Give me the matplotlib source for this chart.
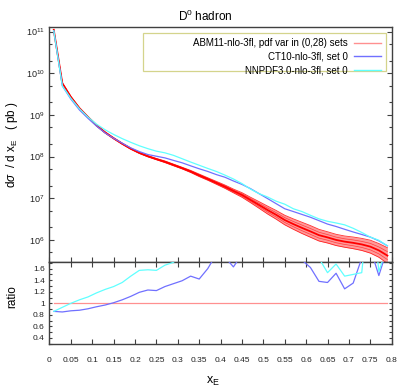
import numpy as np
import matplotlib
matplotlib.use('Agg')
import matplotlib.pyplot as plt
from matplotlib.patches import Rectangle
from matplotlib.ticker import FixedLocator, FuncFormatter, LogLocator, NullFormatter, MultipleLocator

plt.rcParams['font.family'] = ['Liberation Sans', 'DejaVu Sans']
plt.rcParams['mathtext.fontset'] = 'custom'
plt.rcParams['mathtext.rm'] = 'Liberation Sans'
plt.rcParams['mathtext.it'] = 'Liberation Sans:italic'
plt.rcParams['mathtext.sf'] = 'Liberation Sans'

# ---------------- data ----------------
x_E = [0.01, 0.03, 0.05, 0.07, 0.09, 0.11, 0.13, 0.15, 0.17, 0.19,
       0.21, 0.23, 0.25, 0.27, 0.29, 0.31, 0.33, 0.35, 0.37, 0.39,
       0.41, 0.43, 0.45, 0.47, 0.49, 0.51, 0.53, 0.55, 0.57, 0.59,
       0.61, 0.63, 0.65, 0.67, 0.69, 0.71, 0.73, 0.75, 0.77, 0.79]

# ABM11 central value (pb)
abm11 = [1.1e11, 5.75e9, 2.69e9, 1.45e9, 8.9e8, 5.6e8, 3.8e8, 2.75e8, 2.04e8, 1.55e8,
         1.23e8, 1.02e8, 8.7e7, 7.5e7, 6.3e7, 5.3e7, 4.4e7, 3.55e7, 2.9e7, 2.35e7,
         1.9e7, 1.5e7, 1.2e7, 9.1e6, 6.9e6, 5.2e6, 4.0e6, 3.0e6, 2.4e6, 1.95e6,
         1.6e6, 1.3e6, 1.15e6, 1.0e6, 9.1e5, 8.5e5, 7.8e5, 6.9e5, 5.6e5, 4.2e5]
# spread of the 29 ABM11 members (decades, half width)
abm11_spread_dex = [0.015, 0.015, 0.015, 0.015, 0.015, 0.015, 0.015, 0.015, 0.015, 0.015,
                    0.015, 0.015, 0.015, 0.02, 0.02, 0.02, 0.025, 0.03, 0.03, 0.035,
                    0.04, 0.045, 0.055, 0.065, 0.08, 0.095, 0.105, 0.115, 0.125, 0.135,
                    0.14, 0.14, 0.135, 0.135, 0.135, 0.14, 0.145, 0.155, 0.165, 0.19]
ct10 = [1.05e11, 5.0e9, 2.4e9, 1.32e9, 8.3e8, 5.4e8, 3.7e8, 2.75e8, 2.1e8, 1.62e8,
        1.32e8, 1.12e8, 1.02e8, 9.3e7, 8.1e7, 7.1e7, 6.0e7, 5.1e7, 4.4e7, 3.7e7,
        3.2e7, 2.6e7, 2.15e7, 1.7e7, 1.29e7, 9.8e6, 7.4e6, 5.6e6, 4.8e6, 4.1e6,
        3.5e6, 2.9e6, 2.4e6, 2.1e6, 1.8e6, 1.55e6, 1.35e6, 1.17e6, 9.5e5, 7.2e5]
nnpdf = [1.05e11, 5.0e9, 2.5e9, 1.41e9, 8.9e8, 6.0e8, 4.4e8, 3.4e8, 2.7e8, 2.2e8,
         1.82e8, 1.55e8, 1.35e8, 1.23e8, 1.07e8, 8.9e7, 7.4e7, 6.2e7, 5.2e7, 4.4e7,
         3.6e7, 2.9e7, 2.25e7, 1.66e7, 1.29e7, 1.07e7, 8.5e6, 7.2e6, 5.6e6, 4.8e6,
         3.9e6, 3.2e6, 2.8e6, 2.55e6, 2.3e6, 1.9e6, 1.51e6, 1.17e6, 9.8e5, 7.2e5]

ratio_abm11 = [1.0] * 40
ratio_ct10 = [0.86, 0.85, 0.87, 0.88, 0.905, 0.94, 0.97, 1.01, 1.06, 1.12,
              1.19, 1.23, 1.22, 1.29, 1.34, 1.39, 1.47, 1.42, 1.60, 1.85,
              1.80, 1.63, 1.85, 1.90, 1.95, 2.00, 2.00, 1.95, 1.85, 1.75,
              1.62, 1.38, 1.36, 1.52, 1.25, 1.35, 1.78, 1.95, 1.48, 1.95]
ratio_nnpdf = [0.86, 0.93, 1.00, 1.06, 1.11, 1.18, 1.24, 1.29, 1.36, 1.47,
               1.57, 1.58, 1.57, 1.66, 1.71, 1.85, 1.95, 2.05, 2.10, 2.15,
               2.20, 2.20, 2.20, 2.20, 2.20, 2.20, 2.20, 2.15, 2.10, 2.00,
               1.90, 1.78, 1.53, 1.68, 1.47, 1.50, 1.53, 3.00, 1.55, 2.00]

labels = ['ABM11-nlo-3fl, pdf var in (0,28) sets', 'CT10-nlo-3fl, set 0', 'NNPDF3.0-nlo-3fl, set 0']
xticks = [0, 0.05, 0.1, 0.15, 0.2, 0.25, 0.3, 0.35, 0.4, 0.45, 0.5, 0.55, 0.6, 0.65, 0.7, 0.75, 0.8]

# ---------------- style ----------------
c_red = '#ff0000'
c_red_light = '#ff9090'
c_blue = '#7070ff'
c_cyan = '#60ffff'
c_frame = '#404040'

fig = plt.figure(figsize=(4.11, 3.91), dpi=100)
ax = fig.add_axes([0.1204, 0.3307, 0.8326, 0.5995])
axr = fig.add_axes([0.1204, 0.1194, 0.8326, 0.2113])

xa = np.array(x_E)
abm = np.array(abm11)
sp = 10 ** np.array(abm11_spread_dex)

# main panel
ax.fill_between(xa, abm / sp, abm * sp, color='#ff2020', alpha=0.45, lw=0, zorder=2, clip_on=False)
ax.plot(xa, abm / sp, color=c_red, lw=0.6, alpha=0.8, zorder=2, clip_on=False)
ax.plot(xa, abm * sp, color=c_red, lw=0.6, alpha=0.8, zorder=2)
ax.plot(xa, abm / np.sqrt(sp), color=c_red, lw=0.5, alpha=0.6, zorder=2)
ax.plot(xa, abm * np.sqrt(sp), color=c_red, lw=0.5, alpha=0.6, zorder=2)
ax.plot(xa, abm, color=c_red, lw=1.3, zorder=3)
ax.plot(xa, ct10, color=c_blue, lw=0.9, zorder=4)
ax.plot(xa, nnpdf, color=c_cyan, lw=0.9, zorder=4)

ax.set_yscale('log')
ax.set_xlim(0, 0.8)
ax.set_ylim(3.0e5, 1.27e11)
ax.yaxis.set_major_locator(LogLocator(base=10, numticks=20))
ax.yaxis.set_minor_locator(LogLocator(base=10, subs=(2.0, 5.0), numticks=20))
ax.yaxis.set_minor_formatter(NullFormatter())
ax.xaxis.set_major_locator(FixedLocator(xticks))
ax.tick_params(axis='both', which='both', direction='in', top=False, right=True,
               labelbottom=False, labelsize=6.5, colors=c_frame, labelcolor='#222222', width=0.8)
ax.tick_params(which='major', length=3.5)
ax.tick_params(which='minor', length=2.2)

# legend frame (wide box, as in the original)
ax.add_patch(Rectangle((0.2732, 0.8149), 0.7101, 0.1595, transform=ax.transAxes,
                       facecolor='white', edgecolor='#d4d48c', lw=0.9, zorder=5))
h1, = ax.plot([], [], color=c_red_light, lw=1.0)
h2, = ax.plot([], [], color=c_blue, lw=1.0)
h3, = ax.plot([], [], color=c_cyan, lw=1.0)
leg = ax.legend([h1, h2, h3], labels, loc='upper right', bbox_to_anchor=(0.983, 0.974),
                borderaxespad=0, fontsize=7, markerfirst=False, handlelength=2.8,
                handletextpad=0.6, labelspacing=0.35, borderpad=0.5, frameon=False)
leg.set_zorder(6)

# ratio panel
axr.plot(xa, ratio_abm11, color=c_red_light, lw=0.9, zorder=2)
axr.plot(xa, ratio_ct10, color=c_blue, lw=0.9, zorder=3)
axr.plot(xa, ratio_nnpdf, color=c_cyan, lw=0.9, zorder=3)
axr.set_xlim(0, 0.8)
axr.set_ylim(0.29, 1.72)
axr.xaxis.set_major_locator(FixedLocator(xticks))
axr.xaxis.set_major_formatter(FuncFormatter(lambda v, p: '%g' % round(v, 3)))
axr.yaxis.set_major_locator(MultipleLocator(0.2))
axr.yaxis.set_minor_locator(MultipleLocator(0.1))
axr.yaxis.set_major_formatter(FuncFormatter(lambda v, p: '%g' % round(v, 3)))
axr.tick_params(axis='both', which='both', direction='in', top=True, right=True,
                labelsize=6, colors=c_frame, labelcolor='#222222', width=0.8)
axr.tick_params(axis='x', which='major', length=3.8, pad=9)
axr.tick_params(axis='y', which='both', length=2.5)

for a in (ax, axr):
    for s in a.spines.values():
        s.set_color(c_frame)
        s.set_linewidth(1.0)

fig.text(205 / 411, 1 - 16 / 391, r'D$^{\rm 0}$ hadron', ha='center', va='center', fontsize=8.5)
fig.text(12 / 411, 1 - 145 / 391, r'd$\sigma$  / d x$_{\rm E}$   ( pb )', rotation=90,
         ha='center', va='center', fontsize=8.5)
fig.text(12 / 411, 1 - 297 / 391, 'ratio', rotation=90, ha='center', va='center', fontsize=8.5)
fig.text(213 / 411, 1 - 381 / 391, r'x$_{\rm E}$', ha='center', va='center', fontsize=9)

fig.savefig('out.png', dpi=100)
